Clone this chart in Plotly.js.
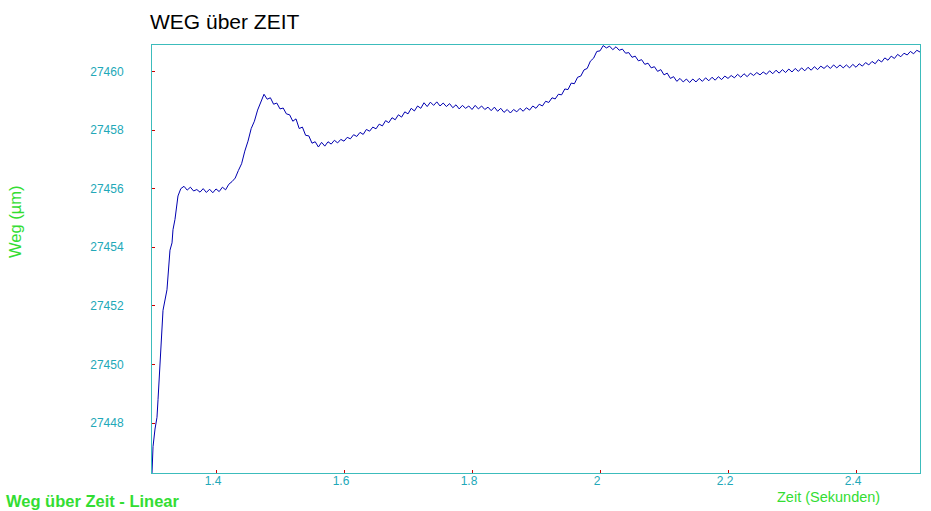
<!DOCTYPE html>
<html>
<head>
<meta charset="utf-8">
<script src="https://cdn.plot.ly/plotly-3.0.1.min.js"></script>
<style>html,body{margin:0;padding:0;background:#fff;}#chart{width:931px;height:511px;}</style>
</head>
<body>
<div id="chart"></div>
<script>
// Zeit (s) der Messpunkte – steiler Anstieg
const riseTime = [1.3,1.3016,1.3047,1.3078,1.3094,1.3125,1.3156,1.3172,1.3234,1.325,1.3281,1.3313,1.3328,1.3359,1.3391,1.3406];
const riseWeg = [27446.3,27447.2,27447.8,27448.2,27448.8,27450.05,27451.1,27451.85,27452.55,27453.15,27453.9,27454.15,27454.6,27454.95,27455.4,27455.75];

// Zeit (s) der weiteren Messpunkte
const mainTime = [
1.345,1.35,1.355,1.36,1.365,1.37,1.375,1.38,1.385,1.39,
1.395,1.4,1.405,1.41,1.415,1.42,1.425,1.43,1.435,1.44,
1.445,1.45,1.455,1.46,1.465,1.47,1.475,1.48,1.485,1.49,
1.495,1.5,1.505,1.51,1.515,1.52,1.525,1.53,1.535,1.54,
1.545,1.55,1.555,1.56,1.565,1.57,1.575,1.58,1.585,1.59,
1.595,1.6,1.605,1.61,1.615,1.62,1.625,1.63,1.635,1.64,
1.645,1.65,1.655,1.66,1.665,1.67,1.675,1.68,1.685,1.69,
1.695,1.7,1.705,1.71,1.715,1.72,1.725,1.73,1.735,1.74,
1.745,1.75,1.755,1.76,1.765,1.77,1.775,1.78,1.785,1.79,
1.795,1.8,1.805,1.81,1.815,1.82,1.825,1.83,1.835,1.84,
1.845,1.85,1.855,1.86,1.865,1.87,1.875,1.88,1.885,1.89,
1.895,1.9,1.905,1.91,1.915,1.92,1.925,1.93,1.935,1.94,
1.945,1.95,1.955,1.96,1.965,1.97,1.975,1.98,1.985,1.99,
1.995,2,2.005,2.01,2.015,2.02,2.025,2.03,2.035,2.04,
2.045,2.05,2.055,2.06,2.065,2.07,2.075,2.08,2.085,2.09,
2.095,2.1,2.105,2.11,2.115,2.12,2.125,2.13,2.135,2.14,
2.145,2.15,2.155,2.16,2.165,2.17,2.175,2.18,2.185,2.19,
2.195,2.2,2.205,2.21,2.215,2.22,2.225,2.23,2.235,2.24,
2.245,2.25,2.255,2.26,2.265,2.27,2.275,2.28,2.285,2.29,
2.295,2.3,2.305,2.31,2.315,2.32,2.325,2.33,2.335,2.34,
2.345,2.35,2.355,2.36,2.365,2.37,2.375,2.38,2.385,2.39,
2.395,2.4,2.405,2.41,2.415,2.42,2.425,2.43,2.435,2.44,
2.445,2.45,2.455,2.46,2.465,2.47,2.475,2.48,2.485,2.49,
2.495,2.5];

// Weg (µm)
const mainWeg = [
27456.00,27456.08,27455.95,27456.05,27455.92,27455.97,27455.88,27456.00,27455.87,27455.98,
27455.86,27455.99,27455.90,27456.05,27455.96,27456.15,27456.24,27456.36,27456.62,27456.85,
27457.28,27457.62,27458.05,27458.30,27458.68,27458.95,27459.22,27459.05,27459.10,27458.88,
27458.92,27458.72,27458.75,27458.55,27458.52,27458.30,27458.38,27458.05,27458.10,27457.82,
27457.80,27457.55,27457.60,27457.42,27457.58,27457.45,27457.60,27457.52,27457.65,27457.56,
27457.68,27457.62,27457.75,27457.70,27457.84,27457.78,27457.92,27457.85,27458.02,27457.96,
27458.10,27458.04,27458.20,27458.14,27458.32,27458.25,27458.42,27458.35,27458.52,27458.44,
27458.62,27458.55,27458.74,27458.65,27458.82,27458.74,27458.93,27458.80,27458.95,27458.84,
27458.96,27458.82,27458.92,27458.80,27458.90,27458.76,27458.86,27458.72,27458.84,27458.74,
27458.82,27458.70,27458.84,27458.72,27458.82,27458.70,27458.78,27458.66,27458.78,27458.64,
27458.74,27458.60,27458.70,27458.58,27458.70,27458.62,27458.74,27458.64,27458.76,27458.68,
27458.82,27458.74,27458.88,27458.82,27458.98,27458.94,27459.10,27459.06,27459.22,27459.20,
27459.40,27459.38,27459.60,27459.58,27459.80,27459.84,27460.05,27460.10,27460.35,27460.45,
27460.68,27460.70,27460.88,27460.80,27460.86,27460.74,27460.84,27460.72,27460.76,27460.62,
27460.64,27460.48,27460.52,27460.36,27460.40,27460.24,27460.28,27460.12,27460.16,27460.00,
27460.06,27459.88,27459.94,27459.76,27459.82,27459.66,27459.76,27459.64,27459.74,27459.62,
27459.74,27459.64,27459.76,27459.66,27459.78,27459.68,27459.80,27459.70,27459.82,27459.72,
27459.84,27459.76,27459.86,27459.78,27459.90,27459.80,27459.92,27459.82,27459.94,27459.86,
27459.96,27459.88,27459.98,27459.90,27460.02,27459.92,27460.04,27459.94,27460.06,27459.96,
27460.08,27459.98,27460.10,27460.00,27460.12,27460.02,27460.14,27460.04,27460.16,27460.06,
27460.18,27460.10,27460.20,27460.10,27460.22,27460.12,27460.22,27460.12,27460.22,27460.12,
27460.24,27460.14,27460.26,27460.18,27460.30,27460.22,27460.34,27460.26,27460.40,27460.32,
27460.46,27460.38,27460.52,27460.44,27460.58,27460.50,27460.62,27460.56,27460.68,27460.60,
27460.72,27460.66];

const xTickVals = [1.4,1.6,1.8,2,2.2,2.4];
const xTickText = ['1.4','1.6','1.8','2','2.2','2.4'];
const yTickVals = [27448,27450,27452,27454,27456,27458,27460];
const yTickText = ['27448','27450','27452','27454','27456','27458','27460'];

const titleText = 'WEG über ZEIT';
const yTitleText = 'Weg (µm)';
const xTitleText = 'Zeit (Sekunden)';
const footText = 'Weg über Zeit - Linear';

const frameColor = '#3cbcbc';
const tickLabelColor = '#22a8b8';
const green = '#33dd33';
const sans = '"Liberation Sans", Arial, sans-serif';

const trace = {
  type: 'scatter',
  mode: 'lines',
  x: riseTime.concat(mainTime),
  y: riseWeg.concat(mainWeg),
  line: {color: '#0000b0', width: 1},
  hoverinfo: 'skip',
  showlegend: false
};

const layout = {
  width: 931, height: 511,
  margin: {l: 152, r: 11, t: 45, b: 38, pad: 0},
  paper_bgcolor: '#ffffff',
  plot_bgcolor: '#ffffff',
  showlegend: false,
  title: {
    text: titleText,
    font: {family: sans, size: 21, color: '#000000'},
    x: 150/931, xref: 'container', xanchor: 'left',
    y: 1 - 22/511, yref: 'container', yanchor: 'middle'
  },
  xaxis: {
    range: [1.3, 2.5],
    tickvals: xTickVals, ticktext: xTickText,
    ticks: 'inside', ticklen: 3, tickcolor: '#cc0000', tickwidth: 1,
    showgrid: false, zeroline: false,
    showline: true, mirror: true, linecolor: frameColor, linewidth: 1,
    tickfont: {family: sans, size: 12, color: tickLabelColor},
    ticklabelstandoff: -3,
    ticklabelshift: -3,
    automargin: false
  },
  yaxis: {
    range: [27446.3, 27460.9],
    tickvals: yTickVals, ticktext: yTickText,
    ticks: 'inside', ticklen: 3, tickcolor: '#cc0000', tickwidth: 1,
    showgrid: false, zeroline: false,
    showline: true, mirror: true, linecolor: frameColor, linewidth: 1,
    tickfont: {family: sans, size: 12, color: tickLabelColor},
    ticklabelstandoff: 25,
    automargin: false
  },
  annotations: [
    {text: yTitleText, xref: 'paper', yref: 'paper', x: -137/768, y: 251/428,
     xanchor: 'center', yanchor: 'middle', textangle: -90, showarrow: false,
     font: {family: sans, size: 16.5, color: green}},
    {text: xTitleText, xref: 'paper', yref: 'paper', x: 676/768, y: -24/428,
     xanchor: 'center', yanchor: 'middle', showarrow: false,
     font: {family: sans, size: 14.5, color: green}},
    {text: '<b>' + footText + '</b>', xref: 'paper', yref: 'paper', x: -148/768, y: -28/428,
     xanchor: 'left', yanchor: 'middle', showarrow: false,
     font: {family: sans, size: 16.5, color: green}}
  ]
};

Plotly.newPlot('chart', [trace], layout, {displayModeBar: false, staticPlot: true});
</script>
</body>
</html>
